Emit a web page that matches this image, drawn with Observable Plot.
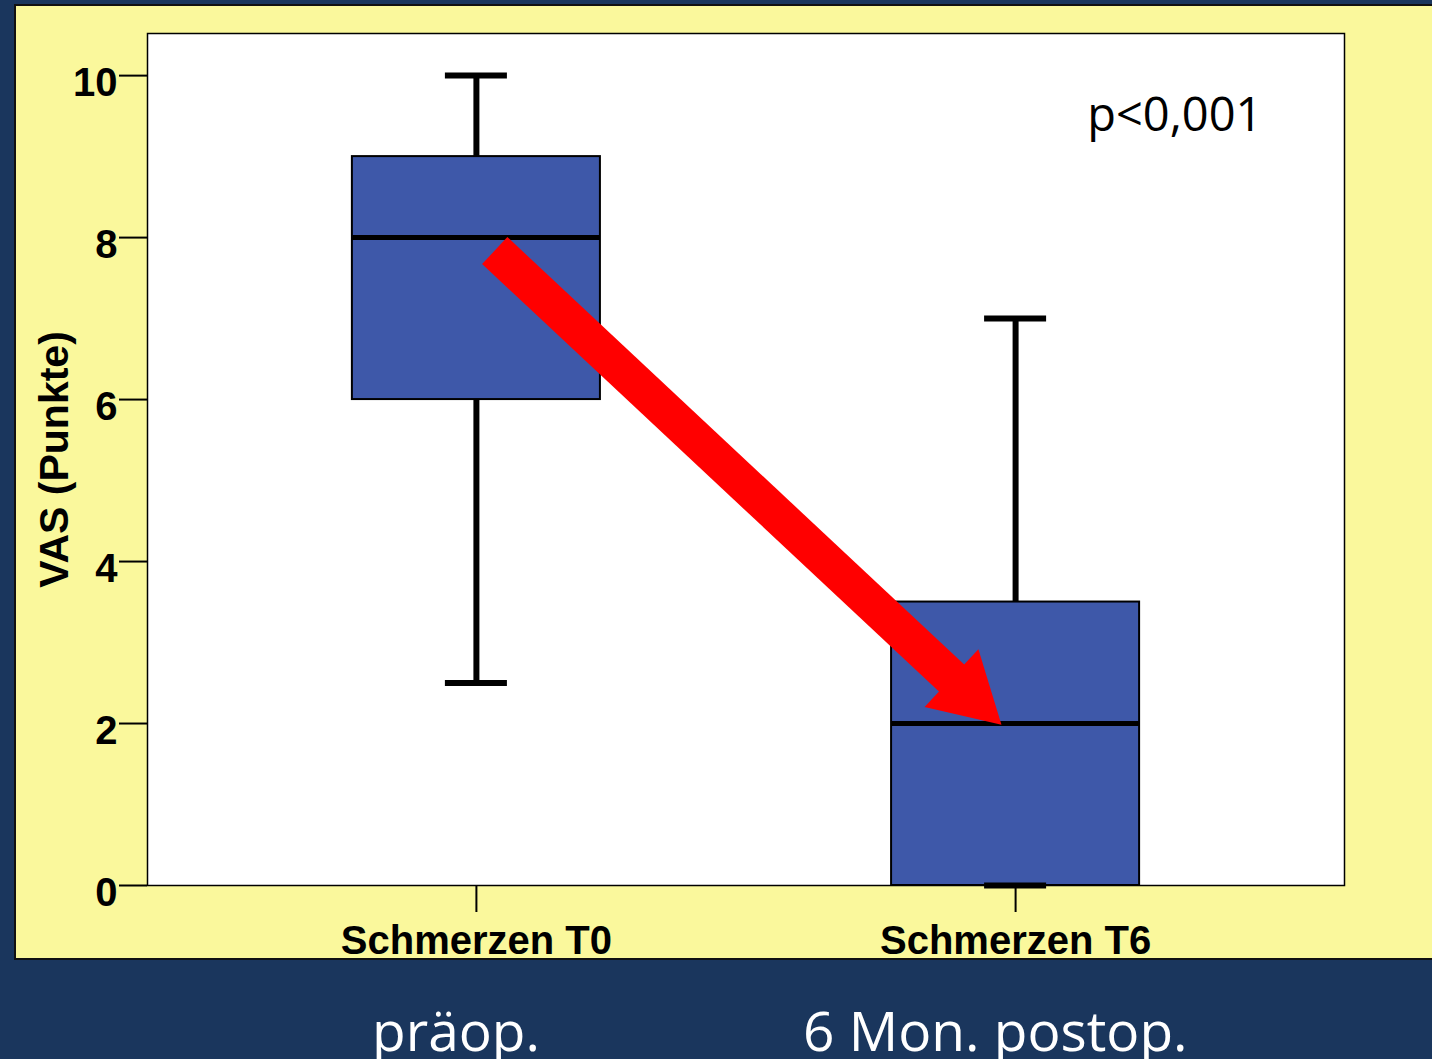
<!DOCTYPE html>
<html>
<head>
<meta charset="utf-8">
<script src="https://cdn.jsdelivr.net/npm/d3@7"></script>
<script src="https://cdn.jsdelivr.net/npm/@observablehq/plot@0.6"></script>
<style>
  html, body { margin: 0; padding: 0; }
  body { width: 1432px; height: 1059px; overflow: hidden; position: relative; background: #1a365d; }
  #panel { position: absolute; left: 14px; top: 4px; width: 1430px; height: 956px; background: #faf89c; border: 2px solid #111; box-sizing: border-box; }
  #chart { position: absolute; left: 0; top: 0; }
  .cap { position: absolute; font-family: "Open Sans", sans-serif; font-size: 55px; line-height: 1; color: #ffffff; white-space: nowrap; }
</style>
</head>
<body>
<div id="panel"></div>
<div id="chart"></div>
<div class="cap" style="left:372px; top:1002px;">präop.</div>
<div class="cap" style="left:803px; top:1002px;">6 Mon. postop.</div>
<script>
// ---- data ----
const groups = ["Schmerzen T0", "Schmerzen T6"];
const whiskerLow = [2.5, 0];
const q1 = [6, 0];
const median = [8, 2];
const q3 = [9, 3.5];
const whiskerHigh = [10, 7];
const yTicks = [0, 2, 4, 6, 8, 10];
const yLabel = "VAS (Punkte)";
const pLabel = "p<0,001";
// arrow annotation (data units: x = group index, y = VAS)
const arrowTail = [0.034, 7.84];
const arrowHead = [0.912, 2.37];

const rows = groups.map((g, i) => ({
  i, group: g, low: whiskerLow[i], q1: q1[i], median: median[i], q3: q3[i], high: whiskerHigh[i]
}));
const arrowRows = [{x1: arrowTail[0], y1: arrowTail[1], x2: arrowHead[0], y2: arrowHead[1]}];

const boxHalf = 0.23;
const capHalf = 0.0575;
const boxFill = "#3e58a9";
const font = "'Liberation Sans', Arial, sans-serif";

const chart = Plot.plot({
  width: 1432,
  height: 980,
  marginLeft: 147,
  marginRight: 88,
  marginTop: 33,
  marginBottom: 95,
  style: { background: "transparent", fontFamily: font, color: "#000", overflow: "visible" },
  x: { type: "linear", domain: [-0.61, 1.61] },
  y: { domain: [0, 10.52] },
  marks: [
    Plot.frame({ fill: "white", stroke: "#000", strokeWidth: 1.5 }),
    Plot.axisY({
      ticks: yTicks, tickSize: 28, tickFormat: () => "", label: null, strokeWidth: 2
    }),
    Plot.text(yTicks, {
      y: d => d, text: d => String(d), frameAnchor: "left", textAnchor: "end",
      dx: -30, dy: 8, fontSize: 40, fontWeight: "bold", fontFamily: font, fill: "#000"
    }),
    Plot.axisX({
      ticks: [0, 1], tickSize: 27, tickPadding: 13, tickFormat: d => groups[d],
      fontSize: 40, fontWeight: "bold", fontFamily: font, label: null, strokeWidth: 2
    }),
    Plot.text([yLabel], {
      text: d => d, frameAnchor: "left", textAnchor: "middle", dx: -93, rotate: -90,
      fontSize: 41, fontWeight: "bold", fontFamily: font, fill: "#000"
    }),
    Plot.ruleX(rows, { x: "i", y1: "low", y2: "high", stroke: "#000", strokeWidth: 6 }),
    Plot.rect(rows, {
      x1: d => d.i - boxHalf, x2: d => d.i + boxHalf, y1: "q1", y2: "q3",
      fill: boxFill, stroke: "#000", strokeWidth: 2
    }),
    Plot.ruleY(rows, { x1: d => d.i - boxHalf, x2: d => d.i + boxHalf, y: "median", stroke: "#000", strokeWidth: 5 }),
    Plot.ruleY(rows, { x1: d => d.i - capHalf, x2: d => d.i + capHalf, y: "high", stroke: "#000", strokeWidth: 6 }),
    Plot.ruleY(rows, { x1: d => d.i - capHalf, x2: d => d.i + capHalf, y: "low", stroke: "#000", strokeWidth: 6 }),
    Plot.link(arrowRows, { x1: "x1", y1: "y1", x2: "x2", y2: "y2", stroke: "#ff0000", strokeWidth: 37, strokeLinecap: "butt" }),
    Plot.dot(arrowRows, { x: "x2", y: "y2", symbol: "triangle", r: 29.3, rotate: 133, fill: "#ff0000", stroke: "none" }),
    Plot.text([pLabel], {
      text: d => d, frameAnchor: "top-right", textAnchor: "end", lineAnchor: "bottom",
      dx: -82, dy: 97, fontSize: 47, fontFamily: "'Open Sans', sans-serif", fill: "#000"
    })
  ]
});
document.getElementById("chart").appendChild(chart);
</script>
</body>
</html>
